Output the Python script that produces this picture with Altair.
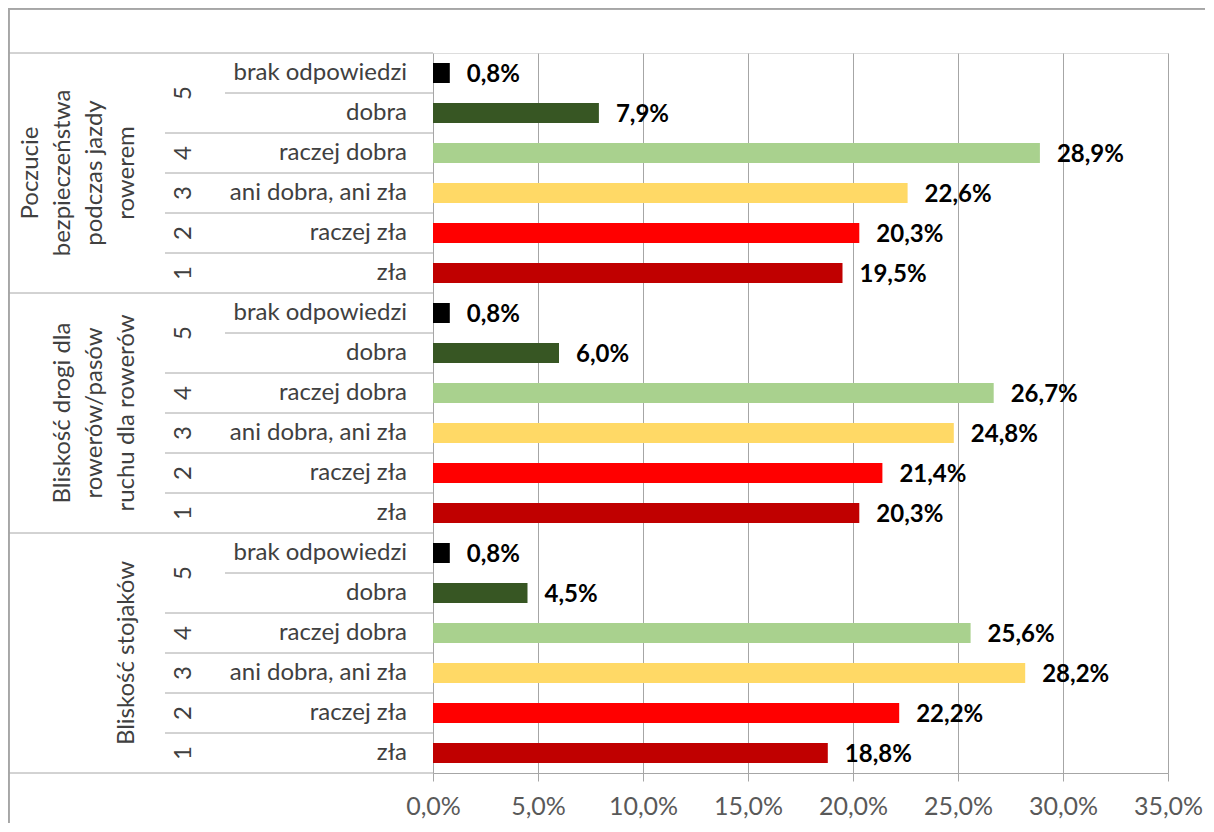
import altair as alt
import pandas as pd

# ---------------- data ----------------
group_lines = [
    ["Poczucie", "bezpieczeństwa", "podczas jazdy", "rowerem"],
    ["Bliskość drogi dla", "rowerów/pasów", "ruchu dla rowerów"],
    ["Bliskość stojaków"],
]
categories = ["brak odpowiedzi", "dobra", "raczej dobra", "ani dobra, ani zła", "raczej zła", "zła"]
scores = ["5", "4", "3", "2", "1"]
score_rows = [[0, 1], [2], [3], [4], [5]]  # which category rows each score spans
values_g1 = [0.8, 7.9, 28.9, 22.6, 20.3, 19.5]
values_g2 = [0.8, 6.0, 26.7, 24.8, 21.4, 20.3]
values_g3 = [0.8, 4.5, 25.6, 28.2, 22.2, 18.8]
values = [values_g1, values_g2, values_g3]
colors = ["#000000", "#375623", "#A9D18E", "#FFD966", "#FF0000", "#C00000"]
x_ticks = [0, 5, 10, 15, 20, 25, 30, 35]

FONT = "Lato"
GRAY = "#a6a6a6"
TXT = "#404040"
N = len(categories)
W, H = 735, 720
PAD = {"left": 425, "top": 45, "right": 37, "bottom": 50}
LINE_H = 32

rows = []
for g, vals in enumerate(values):
    for i, (c, v) in enumerate(zip(categories, vals)):
        r = g * N + i
        rows.append({
            "row": r, "top": r + 0.25, "bot": r + 0.75, "mid": r + 0.5,
            "category": c, "value": v,
            "label": f"{v:.1f}".replace(".", ",") + "%",
        })
df = pd.DataFrame(rows)

score_df = pd.DataFrame([
    {"score": s, "mid": g * N + (rr[0] + rr[-1] + 1) / 2}
    for g in range(len(values)) for s, rr in zip(scores, score_rows)
])
group_sep = pd.DataFrame({"y": [g * N for g in range(len(values) + 1)]})
score_sep = pd.DataFrame({"y": [g * N + rr[0] for g in range(len(values)) for rr in score_rows[1:]]})
inner_sep = pd.DataFrame({"y": [g * N + rr[1] for g in range(len(values)) for rr in score_rows if len(rr) > 1]})

yscale = alt.Scale(domain=[0, len(values) * N], reverse=True, nice=False, zero=False)
xscale = alt.Scale(domain=[0, 35], nice=False)

bars = alt.Chart(df).mark_rect().encode(
    x=alt.X("value:Q", scale=xscale, axis=alt.Axis(
        values=x_ticks, title=None, grid=True, gridColor=GRAY, gridWidth=1,
        domainColor=GRAY, tickColor=GRAY, tickSize=8,
        labelExpr="replace(format(datum.value, '.1f'), '.', ',') + '%'",
        labelFont=FONT, labelFontSize=25, labelColor="#595959", labelPadding=13,
        labelOverlap=False, labelBound=False, labelFlush=False,
    )),
    x2=alt.datum(0),
    y=alt.Y("top:Q", scale=yscale, axis=None),
    y2="bot:Q",
    color=alt.Color("category:N", scale=alt.Scale(domain=categories, range=colors), legend=None),
)

data_labels = alt.Chart(df).mark_text(
    align="left", baseline="middle", dx=17, dy=2, font=FONT, fontSize=24,
    fontWeight="bold", color="#000000",
).encode(
    x=alt.X("value:Q", scale=xscale),
    y=alt.Y("mid:Q", scale=yscale),
    text="label:N",
)

cat_labels = alt.Chart(df).mark_text(
    align="right", baseline="middle", font=FONT, fontSize=24, color=TXT,
).encode(
    x=alt.value(-26),
    y=alt.Y("mid:Q", scale=yscale),
    text="category:N",
)

score_labels = alt.Chart(score_df).mark_text(
    align="center", baseline="middle", angle=270, font=FONT, fontSize=24, color=TXT,
).encode(
    x=alt.value(-249),
    y=alt.Y("mid:Q", scale=yscale),
    text="score:N",
)

group_layers = []
for g, lines in enumerate(group_lines):
    gdf = pd.DataFrame([{"lines": lines, "mid": g * N + N / 2}])
    group_layers.append(
        alt.Chart(gdf).mark_text(
            align="center", baseline="bottom", angle=270, font=FONT, fontSize=24,
            lineHeight=LINE_H, color=TXT,
        ).encode(
            x=alt.value(-294 - (len(lines) - 1) * LINE_H),
            y=alt.Y("mid:Q", scale=yscale),
            text="lines",
        )
    )

def hrules(data, x0):
    return alt.Chart(data).mark_rule(color=GRAY, strokeWidth=1).encode(
        x=alt.value(x0), x2=alt.value(0),
        y=alt.Y("y:Q", scale=yscale),
    )

frame_left = alt.Chart(group_sep).mark_rule(color=GRAY, strokeWidth=1.5).encode(
    x=alt.value(-PAD["left"] + 0.75), y=alt.value(-PAD["top"]), y2=alt.value(H + PAD["bottom"]),
)
frame_top = alt.Chart(group_sep).mark_rule(color=GRAY, strokeWidth=1.5).encode(
    x=alt.value(-PAD["left"]), x2=alt.value(W + PAD["right"]), y=alt.value(-PAD["top"] + 0.75),
)

chart = alt.layer(
    bars, data_labels, cat_labels, score_labels, *group_layers,
    hrules(group_sep, -425), hrules(score_sep, -268), hrules(inner_sep, -208),
    frame_left, frame_top,
).properties(
    width=W, height=H,
    autosize=alt.AutoSizeParams(type="none"),
    padding=PAD,
).configure_view(stroke=None).configure(background="white")

chart.save("out.html", embed_options={"renderer": "svg", "actions": False})
